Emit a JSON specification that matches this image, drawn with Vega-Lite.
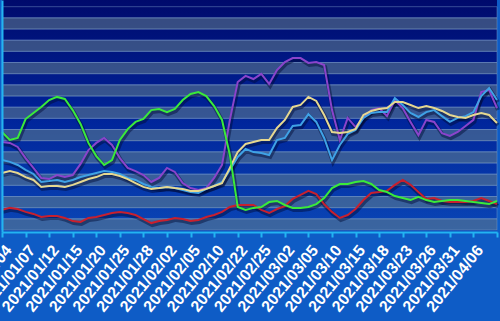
{
  "$schema": "https://vega.github.io/schema/vega-lite/v6.json",
  "autosize": "none",
  "width": 495,
  "height": 232,
  "padding": {"left": 2, "top": 0, "right": 3, "bottom": 89},
  "background": "#0e5cc6",
  "config": {"view": {"stroke": null}},
  "datasets": {
    "bands": [
      {"lo": 0, "hi": 5, "k": "g"}, {"lo": 5, "hi": 10, "k": "d"},
      {"lo": 10, "hi": 15, "k": "g"}, {"lo": 15, "hi": 20, "k": "d"},
      {"lo": 20, "hi": 25, "k": "g"}, {"lo": 25, "hi": 30, "k": "d"},
      {"lo": 30, "hi": 35, "k": "g"}, {"lo": 35, "hi": 40, "k": "d"},
      {"lo": 40, "hi": 45, "k": "g"}, {"lo": 45, "hi": 50, "k": "d"},
      {"lo": 50, "hi": 55, "k": "g"}, {"lo": 55, "hi": 60, "k": "d"},
      {"lo": 60, "hi": 65, "k": "g"}, {"lo": 65, "hi": 70, "k": "d"},
      {"lo": 70, "hi": 75, "k": "g"}, {"lo": 75, "hi": 80, "k": "d"},
      {"lo": 80, "hi": 85, "k": "g"}, {"lo": 85, "hi": 90, "k": "d"},
      {"lo": 90, "hi": 95, "k": "g"}, {"lo": 95, "hi": 100, "k": "d"}
    ],
    "series": [
      {"d": "2021/01/04", "g": 43.9, "r": 9.0, "p": 39.4, "b": 31.3, "y": 25.5},
      {"d": "2021/01/05", "g": 40.3, "r": 9.9, "p": 39.0, "b": 30.5, "y": 26.4},
      {"d": "2021/01/06", "g": 41.2, "r": 9.4, "p": 37.2, "b": 29.1, "y": 25.5},
      {"d": "2021/01/07", "g": 49.7, "r": 8.1, "p": 32.2, "b": 26.9, "y": 23.7},
      {"d": "2021/01/08", "g": 52.4, "r": 7.2, "p": 27.8, "b": 25.1, "y": 22.4},
      {"d": "2021/01/11", "g": 55.1, "r": 5.8, "p": 23.3, "b": 21.5, "y": 19.3},
      {"d": "2021/01/12", "g": 58.2, "r": 6.3, "p": 22.8, "b": 21.9, "y": 19.7},
      {"d": "2021/01/13", "g": 59.6, "r": 6.3, "p": 24.6, "b": 22.4, "y": 19.7},
      {"d": "2021/01/14", "g": 58.7, "r": 5.4, "p": 23.7, "b": 21.5, "y": 19.3},
      {"d": "2021/01/15", "g": 53.7, "r": 4.0, "p": 24.6, "b": 22.4, "y": 20.2},
      {"d": "2021/01/18", "g": 47.5, "r": 3.6, "p": 29.6, "b": 23.7, "y": 21.5},
      {"d": "2021/01/19", "g": 39.0, "r": 5.4, "p": 35.8, "b": 24.6, "y": 22.8},
      {"d": "2021/01/20", "g": 33.1, "r": 5.8, "p": 39.0, "b": 25.5, "y": 23.7},
      {"d": "2021/01/21", "g": 29.1, "r": 6.7, "p": 41.2, "b": 26.4, "y": 25.1},
      {"d": "2021/01/22", "g": 31.3, "r": 7.6, "p": 38.1, "b": 26.0, "y": 25.1},
      {"d": "2021/01/25", "g": 40.3, "r": 8.1, "p": 32.2, "b": 25.1, "y": 24.2},
      {"d": "2021/01/26", "g": 45.2, "r": 7.6, "p": 27.8, "b": 23.3, "y": 22.8},
      {"d": "2021/01/27", "g": 48.4, "r": 6.7, "p": 26.4, "b": 22.4, "y": 21.0},
      {"d": "2021/01/28", "g": 49.7, "r": 4.9, "p": 24.6, "b": 20.6, "y": 19.3},
      {"d": "2021/01/29", "g": 53.7, "r": 3.1, "p": 21.5, "b": 19.3, "y": 18.4},
      {"d": "2021/02/01", "g": 54.2, "r": 4.0, "p": 23.3, "b": 18.8, "y": 18.8},
      {"d": "2021/02/02", "g": 52.8, "r": 4.5, "p": 27.8, "b": 19.3, "y": 19.3},
      {"d": "2021/02/03", "g": 54.2, "r": 5.4, "p": 26.0, "b": 18.8, "y": 18.8},
      {"d": "2021/02/04", "g": 58.2, "r": 4.9, "p": 21.0, "b": 17.9, "y": 18.4},
      {"d": "2021/02/05", "g": 60.9, "r": 4.0, "p": 18.8, "b": 17.0, "y": 17.5},
      {"d": "2021/02/08", "g": 61.8, "r": 4.5, "p": 17.9, "b": 16.6, "y": 17.5},
      {"d": "2021/02/09", "g": 60.0, "r": 5.8, "p": 18.8, "b": 18.4, "y": 18.4},
      {"d": "2021/02/10", "g": 55.5, "r": 6.7, "p": 23.3, "b": 19.7, "y": 19.7},
      {"d": "2021/02/18", "g": 49.3, "r": 8.1, "p": 29.1, "b": 21.5, "y": 21.0},
      {"d": "2021/02/19", "g": 33.6, "r": 10.3, "p": 49.3, "b": 26.9, "y": 27.8},
      {"d": "2021/02/22", "g": 10.3, "r": 11.2, "p": 66.3, "b": 32.7, "y": 34.9},
      {"d": "2021/02/23", "g": 9.0, "r": 11.2, "p": 69.0, "b": 36.3, "y": 38.5},
      {"d": "2021/02/24", "g": 9.9, "r": 11.2, "p": 67.6, "b": 34.9, "y": 39.4},
      {"d": "2021/02/25", "g": 10.3, "r": 9.0, "p": 69.9, "b": 34.5, "y": 40.3},
      {"d": "2021/02/26", "g": 12.5, "r": 7.6, "p": 65.4, "b": 33.6, "y": 40.3},
      {"d": "2021/03/01", "g": 13.0, "r": 9.4, "p": 71.6, "b": 40.3, "y": 45.7},
      {"d": "2021/03/02", "g": 11.2, "r": 10.7, "p": 75.2, "b": 41.2, "y": 49.3},
      {"d": "2021/03/03", "g": 9.9, "r": 13.9, "p": 77.0, "b": 46.6, "y": 55.1},
      {"d": "2021/03/04", "g": 9.9, "r": 15.7, "p": 77.0, "b": 47.0, "y": 56.0},
      {"d": "2021/03/05", "g": 10.3, "r": 17.5, "p": 74.8, "b": 51.9, "y": 59.6},
      {"d": "2021/03/08", "g": 11.6, "r": 16.1, "p": 75.2, "b": 48.4, "y": 57.8},
      {"d": "2021/03/09", "g": 14.3, "r": 11.6, "p": 73.9, "b": 41.2, "y": 51.5},
      {"d": "2021/03/10", "g": 18.8, "r": 8.1, "p": 53.7, "b": 31.3, "y": 43.9},
      {"d": "2021/03/11", "g": 20.6, "r": 5.4, "p": 40.3, "b": 38.1, "y": 43.4},
      {"d": "2021/03/12", "g": 20.6, "r": 6.7, "p": 50.2, "b": 43.0, "y": 43.9},
      {"d": "2021/03/15", "g": 21.5, "r": 9.4, "p": 46.1, "b": 44.8, "y": 45.2},
      {"d": "2021/03/16", "g": 21.9, "r": 13.4, "p": 50.2, "b": 50.2, "y": 51.5},
      {"d": "2021/03/17", "g": 20.6, "r": 16.6, "p": 53.7, "b": 52.4, "y": 53.3},
      {"d": "2021/03/18", "g": 17.9, "r": 17.0, "p": 54.6, "b": 52.8, "y": 54.2},
      {"d": "2021/03/19", "g": 17.0, "r": 17.5, "p": 51.0, "b": 52.8, "y": 54.6},
      {"d": "2021/03/22", "g": 15.2, "r": 20.2, "p": 58.2, "b": 59.1, "y": 57.3},
      {"d": "2021/03/23", "g": 14.3, "r": 22.4, "p": 54.6, "b": 56.0, "y": 57.3},
      {"d": "2021/03/24", "g": 13.4, "r": 20.2, "p": 48.4, "b": 52.4, "y": 56.0},
      {"d": "2021/03/25", "g": 14.8, "r": 17.0, "p": 42.5, "b": 50.6, "y": 54.6},
      {"d": "2021/03/26", "g": 13.4, "r": 13.9, "p": 49.3, "b": 52.8, "y": 55.5},
      {"d": "2021/03/29", "g": 12.5, "r": 14.3, "p": 48.4, "b": 53.7, "y": 54.6},
      {"d": "2021/03/30", "g": 13.0, "r": 13.0, "p": 43.4, "b": 51.0, "y": 53.3},
      {"d": "2021/03/31", "g": 13.4, "r": 12.5, "p": 42.1, "b": 48.4, "y": 51.5},
      {"d": "2021/04/01", "g": 13.4, "r": 12.5, "p": 43.9, "b": 50.2, "y": 50.6},
      {"d": "2021/04/02", "g": 13.0, "r": 12.5, "p": 46.6, "b": 51.0, "y": 50.2},
      {"d": "2021/04/06", "g": 12.5, "r": 13.0, "p": 49.3, "b": 52.8, "y": 51.5},
      {"d": "2021/04/07", "g": 12.1, "r": 14.3, "p": 61.8, "b": 60.0, "y": 52.4},
      {"d": "2021/04/08", "g": 11.6, "r": 13.0, "p": 62.7, "b": 63.6, "y": 51.5},
      {"d": "2021/04/09", "g": 13.0, "r": 11.6, "p": 54.6, "b": 58.2, "y": 47.9}
    ]
  },
  "encoding": {
    "y": {
      "type": "quantitative",
      "scale": {"domain": [-0.9, 103]},
      "axis": {"title": null, "labels": false, "ticks": false, "grid": false, "zindex": 2, "domainColor": "#22b4f2", "domainWidth": 2}
    }
  },
  "layer": [
    {
      "data": {"values": [{"bg": 1}]},
      "mark": {
        "type": "rect",
        "color": {
          "gradient": "linear", "x1": 0, "y1": 0, "x2": 0, "y2": 1,
          "stops": [
            {"offset": 0, "color": "#000a6c"},
            {"offset": 0.5, "color": "#00249a"},
            {"offset": 1, "color": "#0a46b6"}
          ]
        }
      },
      "encoding": {"y": null}
    },
    {
      "data": {"name": "bands"},
      "mark": {"type": "rect", "stroke": "#7a9cc8", "strokeWidth": 1, "strokeOpacity": 0.45},
      "encoding": {
        "y": {"field": "lo", "type": "quantitative"},
        "y2": {"field": "hi"},
        "fill": {"field": "k", "type": "nominal", "scale": {"domain": ["g", "d"], "range": ["#62808e", "transparent"]}, "legend": null},
        "fillOpacity": {"value": 0.55}
      }
    },
    {
      "data": {"name": "series"},
      "transform": [{"fold": ["p", "b", "y", "r", "g"], "as": ["s", "v"]}],
      "encoding": {
        "x": {
          "field": "d", "type": "ordinal", "sort": null,
          "scale": {"type": "point", "padding": 0},
          "axis": {
            "title": null,
            "zindex": 2,
            "values": ["2021/01/04", "2021/01/07", "2021/01/12", "2021/01/15", "2021/01/20", "2021/01/25", "2021/01/28", "2021/02/02", "2021/02/05", "2021/02/10", "2021/02/22", "2021/02/25", "2021/03/02", "2021/03/05", "2021/03/10", "2021/03/15", "2021/03/18", "2021/03/23", "2021/03/26", "2021/03/31", "2021/04/06", "2021/04/09"],
            "labelExpr": "datum.value == '2021/04/09' ? '' : datum.value",
            "labelAngle": -51,
            "labelAlign": "right",
            "labelBaseline": "top",
            "labelFont": "Liberation Sans",
            "labelFontWeight": "bold",
            "labelFontSize": 16,
            "labelColor": "#ffffff",
            "labelPadding": 5,
            "labelOverlap": false,
            "labelBound": false,
            "labelFlush": false,
            "domainColor": "#22b4f2",
            "domainWidth": 2,
            "tickColor": "#22b4f2",
            "tickWidth": 2,
            "tickSize": 5,
            "grid": false
          }
        },
        "y": {"field": "v", "type": "quantitative"}
      },
      "layer": [
        {
          "mark": {"type": "line", "color": "#000830", "opacity": 0.45, "strokeWidth": 4, "xOffset": 1, "yOffset": 2},
          "encoding": {"detail": {"field": "s", "type": "nominal"}}
        },
        {
          "mark": {"type": "line"},
          "encoding": {
            "color": {
              "field": "s", "type": "nominal",
              "scale": {"domain": ["p", "b", "y", "r", "g"], "range": ["#8a44cc", "#3fa2e6", "#e6d890", "#c8202e", "#3aea3a"]},
              "legend": null
            },
            "size": {
              "field": "s", "type": "nominal",
              "scale": {"domain": ["p", "b", "y", "r", "g"], "range": [2, 2, 2, 3, 3.5]},
              "legend": null
            }
          }
        }
      ]
    }
  ]
}
